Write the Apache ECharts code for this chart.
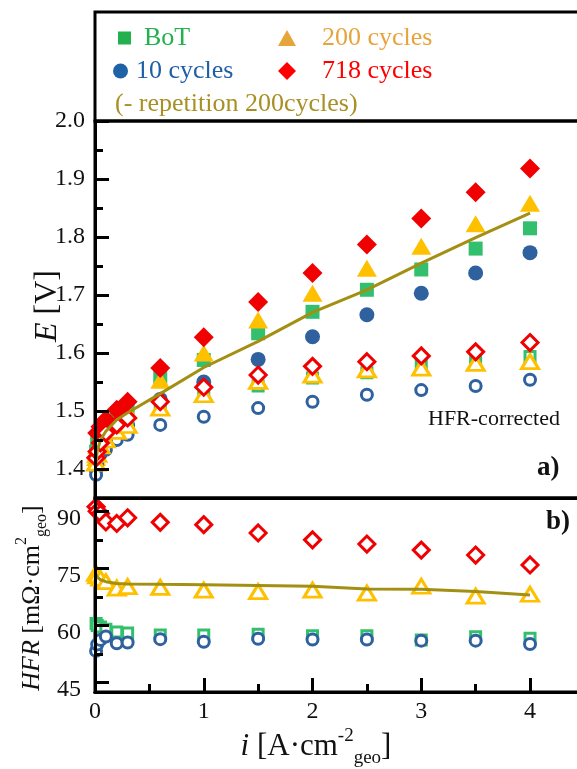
<!DOCTYPE html>
<html>
<head>
<meta charset="utf-8">
<script src="https://cdn.jsdelivr.net/npm/echarts@6/dist/echarts.min.js"></script>
<style>
  html, body { margin: 0; padding: 0; background: #fff; }
  #chart { width: 577px; height: 769px; }
</style>
</head>
<body>
<div id="chart"></div>
<script>
// Current density steps [A/cm2 geo]
const current = [0.01, 0.02, 0.05, 0.1, 0.2, 0.3, 0.6, 1, 1.5, 2, 2.5, 3, 3.5, 4];

// Cell voltage E [V] (raw)
const eBoT   = [1.430, 1.445, 1.460, 1.475, 1.490, 1.500, 1.559, 1.588, 1.634, 1.671, 1.709, 1.744, 1.780, 1.815];
const e10    = [1.400, 1.420, 1.430, 1.445, 1.460, 1.475, 1.520, 1.550, 1.589, 1.628, 1.666, 1.703, 1.738, 1.773];
const e200   = [1.420, 1.440, 1.455, 1.470, 1.485, 1.500, 1.553, 1.600, 1.657, 1.703, 1.746, 1.784, 1.823, 1.858];
const e718   = [1.420, 1.462, 1.473, 1.485, 1.502, 1.516, 1.574, 1.627, 1.688, 1.738, 1.787, 1.832, 1.877, 1.918];
const eRep200 = [1.410, 1.430, 1.450, 1.465, 1.485, 1.497, 1.530, 1.575, 1.620, 1.670, 1.709, 1.755, 1.799, 1.841];

// HFR-corrected voltage [V]
const cBoT = [1.420, 1.435, 1.445, 1.455, 1.470, 1.480, 1.510, 1.530, 1.543, 1.557, 1.566, 1.581, 1.588, 1.594];
const c10  = [1.390, 1.410, 1.425, 1.433, 1.450, 1.459, 1.476, 1.490, 1.505, 1.516, 1.528, 1.536, 1.543, 1.554];
const c200 = [1.410, 1.425, 1.440, 1.450, 1.465, 1.475, 1.505, 1.528, 1.551, 1.562, 1.571, 1.574, 1.582, 1.585];
const c718 = [1.419, 1.430, 1.445, 1.462, 1.476, 1.488, 1.516, 1.541, 1.562, 1.577, 1.585, 1.595, 1.602, 1.618];

// High frequency resistance [mOhm cm2 geo]
const hfrBoT = [60.5, 60.0, 59.6, 59.0, 58.3, 58.0, 57.5, 57.5, 57.7, 57.3, 57.3, 56.2, 57.0, 56.6];
const hfr10  = [53.3, 55.0, 56.2, 57.1, 55.3, 55.5, 56.4, 55.7, 56.5, 56.3, 56.3, 56.0, 56.0, 55.1];
const hfr200 = [73.7, 73.0, 72.4, 71.5, 69.8, 70.2, 70.0, 69.3, 68.9, 69.3, 68.5, 70.3, 67.7, 68.2];
const hfr718 = [91.2, 90.0, 89.4, 87.2, 86.8, 88.3, 87.1, 86.5, 84.3, 82.5, 81.4, 79.8, 78.5, 75.9];
const hfrRep200 = [73.5, 72.8, 72.0, 71.5, 71.0, 70.9, 70.8, 70.7, 70.5, 70.3, 69.6, 69.5, 68.9, 68.0];

// Axis ticks
const xMinorTicks = [0.5, 1.5, 2.5, 3.5];
const eTicks = [1.4, 1.5, 1.6, 1.7, 1.8, 1.9, 2.0];
const eMinorTicks = [1.45, 1.55, 1.65, 1.75, 1.85, 1.95];
const hfrTicks = [45, 60, 75, 90];
const hfrMinorTicks = [52.5, 67.5, 82.5];

const FONT = 'Liberation Serif';
const C = {
  bot: '#33c06e', c10: '#2f619f', c200: '#ffc000', c718: '#f00000', rep: '#a38f12'
};

const pts = (ys) => current.map((x, i) => [x, ys[i]]);

function filled(name, ys, symbol, size, color, xi, yi) {
  return {
    type: 'scatter', name, xAxisIndex: xi, yAxisIndex: yi, data: pts(ys),
    symbol, symbolSize: size, itemStyle: { color, opacity: 1 }, silent: true
  };
}
function hollow(name, ys, symbol, size, color, xi, yi) {
  return {
    type: 'scatter', name, xAxisIndex: xi, yAxisIndex: yi, data: pts(ys),
    symbol, symbolSize: size,
    itemStyle: { color: '#fff', borderColor: color, borderWidth: 3, opacity: 1 }, silent: true
  };
}
function line(name, ys, xi, yi) {
  return {
    type: 'line', name, xAxisIndex: xi, yAxisIndex: yi, data: pts(ys),
    showSymbol: false, symbol: 'none', lineStyle: { color: C.rep, width: 3 }, silent: true
  };
}

const axisLine = () => ({ show: true, onZero: false, lineStyle: { color: '#000', width: 3 } });
const tick = (len, values) => ({
  show: true, inside: true, length: len, customValues: values,
  lineStyle: { color: '#000', width: 3 }
});
const labelStyle = { fontFamily: FONT, fontSize: 24, color: '#111' };

function legendItem(name, icon, iconColor, textColor, left, top, w, h, gap) {
  return {
    show: true, left, top, padding: 0, selectedMode: false,
    itemWidth: w, itemHeight: h,
    data: [{ name, icon, itemStyle: { color: iconColor } }],
    textStyle: { fontFamily: FONT, fontSize: 26, color: textColor, padding: [0, 0, 0, gap] }
  };
}

// rich-text styles for axis titles with super/subscripts
function titleRich(size, small) {
  return {
    it: { fontStyle: 'italic', fontFamily: FONT, fontSize: size, lineHeight: size + 4 },
    sup: { fontFamily: FONT, fontSize: small, lineHeight: small, verticalAlign: 'top' },
    sub: { fontFamily: FONT, fontSize: small, lineHeight: size + 10, verticalAlign: 'bottom' }
  };
}

// plot area: 0..4.5 A/cm2 at 108.75 px per unit, running past the right edge
const plotWidth = 489.4;

const gridBase = { left: 95, width: plotWidth, show: true, borderColor: '#000', borderWidth: 3,
  backgroundColor: 'transparent', z: 0, outerBoundsMode: 'none', containLabel: false };

const option = {
  animation: false,
  backgroundColor: '#fff',
  grid: [
    Object.assign({ top: 121, height: 377 }, gridBase),
    Object.assign({ top: 498, height: 194 }, gridBase)
  ],
  xAxis: [
    { gridIndex: 0, type: 'value', min: 0, max: 4.5, position: 'bottom', z: 5,
      axisLine: axisLine(), axisTick: { show: false }, axisLabel: { show: false }, splitLine: { show: false } },
    { gridIndex: 1, type: 'value', min: 0, max: 4.5, interval: 1, position: 'bottom', z: 5,
      axisLine: axisLine(), splitLine: { show: false },
      axisTick: { show: true, inside: true, length: 14, lineStyle: { color: '#000', width: 3 } },
      axisLabel: Object.assign({ margin: 8, showMaxLabel: false }, labelStyle) },
    { gridIndex: 1, type: 'value', min: 0, max: 4.5, position: 'bottom', z: 5,
      axisLine: axisLine(), splitLine: { show: false }, axisLabel: { show: false },
      axisTick: tick(8, xMinorTicks) }
  ],
  yAxis: [
    { gridIndex: 0, type: 'value', min: 1.35, max: 2.0, position: 'left', z: 5,
      axisLine: axisLine(), splitLine: { show: false },
      axisTick: tick(14, eTicks),
      axisLabel: Object.assign({ margin: 10, customValues: eTicks, formatter: (v) => v.toFixed(1) }, labelStyle) },
    { gridIndex: 0, type: 'value', min: 1.35, max: 2.0, position: 'left', z: 5,
      axisLine: axisLine(), splitLine: { show: false }, axisLabel: { show: false },
      axisTick: tick(8, eMinorTicks) },
    { gridIndex: 1, type: 'value', min: 42.5, max: 93.5, position: 'left', z: 5,
      axisLine: axisLine(), splitLine: { show: false },
      axisTick: tick(14, hfrTicks),
      axisLabel: Object.assign({ margin: 14, customValues: hfrTicks, verticalAlign: 'top', lineHeight: 14 }, labelStyle) },
    { gridIndex: 1, type: 'value', min: 42.5, max: 93.5, position: 'left', z: 5,
      axisLine: axisLine(), splitLine: { show: false }, axisLabel: { show: false },
      axisTick: tick(8, hfrMinorTicks) }
  ],
  legend: [
    legendItem('BoT', 'rect', '#22b14c', '#22b14c', 118, 25, 13, 13, 8),
    legendItem('200 cycles', 'triangle', '#e6a53a', '#e8a43c', 278, 25, 18, 16, 21),
    legendItem('10 cycles', 'circle', '#1f62a8', '#1e5fa5', 113, 58, 15, 15, 3),
    legendItem('718 cycles', 'diamond', '#ff0000', '#ff0000', 278, 58, 18, 18, 21)
  ],
  series: [
    // voltage, raw
    filled('10 cycles', e10, 'circle', 15, C.c10, 0, 0),
    filled('BoT', eBoT, 'rect', 14, C.bot, 0, 0),
    filled('200 cycles', e200, 'triangle', [20, 17], C.c200, 0, 0),
    filled('718 cycles', e718, 'diamond', [20, 20], C.c718, 0, 0),
    line('200 cycles repetition', eRep200, 0, 0),
    // voltage, HFR-corrected
    hollow('BoT corrected', cBoT, 'rect', 10, C.bot, 0, 0),
    hollow('10 cycles corrected', c10, 'circle', 11, C.c10, 0, 0),
    hollow('200 cycles corrected', c200, 'triangle', [17, 14], C.c200, 0, 0),
    hollow('718 cycles corrected', c718, 'diamond', [16, 16], C.c718, 0, 0),
    // HFR
    hollow('BoT HFR', hfrBoT, 'rect', 10, C.bot, 1, 3),
    hollow('10 cycles HFR', hfr10, 'circle', 11, C.c10, 1, 3),
    line('200 cycles repetition HFR', hfrRep200, 1, 3),
    hollow('200 cycles HFR', hfr200, 'triangle', [17, 14], C.c200, 1, 3),
    hollow('718 cycles HFR', hfr718, 'diamond', [16, 16], C.c718, 1, 3)
  ],
  graphic: [
    // legend frame above the voltage panel
    { type: 'rect', shape: { x: 95, y: 12, width: 520, height: 109 },
      style: { fill: 'none', stroke: '#000', lineWidth: 3 }, z: 10 },
    { type: 'text', left: 115, top: 91,
      style: { text: '(- repetition 200cycles)', fontFamily: FONT, fontSize: 26, fill: '#a89024' } },
    { type: 'text', left: 428, top: 408,
      style: { text: 'HFR-corrected', fontFamily: FONT, fontSize: 22, fill: '#111' } },
    { type: 'text', left: 537, top: 455,
      style: { text: 'a)', fontFamily: FONT, fontSize: 27, fontWeight: 'bold', fill: '#111' } },
    { type: 'text', left: 546, top: 509,
      style: { text: 'b)', fontFamily: FONT, fontSize: 27, fontWeight: 'bold', fill: '#111' } },
    // axis titles
    { type: 'text', x: 48, y: 306, rotation: Math.PI / 2,
      style: { text: '{it|E} [V]', fontFamily: FONT, fontSize: 32, fill: '#111', align: 'center', verticalAlign: 'middle',
        rich: { it: { fontStyle: 'italic', fontFamily: FONT, fontSize: 32 } } } },
    { type: 'text', x: 32, y: 598, rotation: Math.PI / 2,
      style: { text: '{it|HFR} [mΩ·cm{sup|2}{sub|geo}]', fontFamily: FONT, fontSize: 26, fill: '#111',
        align: 'center', verticalAlign: 'middle', lineHeight: 30, rich: titleRich(26, 16) } },
    { type: 'text', x: 316, y: 747,
      style: { text: '{it|i} [A·cm{sup|-2}{sub|geo}]', fontFamily: FONT, fontSize: 31, fill: '#111',
        align: 'center', verticalAlign: 'middle', lineHeight: 35, rich: titleRich(31, 19) } }
  ]
};

const chart = echarts.init(document.getElementById('chart'), null, { renderer: 'canvas' });
chart.setOption(option);
</script>
</body>
</html>
